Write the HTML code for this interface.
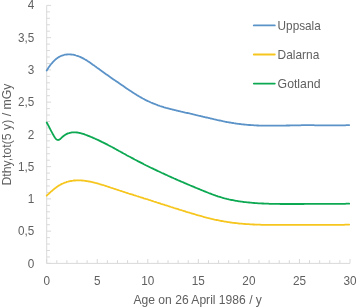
<!DOCTYPE html>
<html><head><meta charset="utf-8"><title>Chart</title>
<style>
html,body{margin:0;padding:0;background:#fff;}
body{width:357px;height:307px;overflow:hidden;}
svg{display:block;font-family:"Liberation Sans",sans-serif;}
.t{font-size:12.05px;fill:#606060;}
.l{font-size:12.4px;fill:#606060;}
</style></head><body>
<svg width="357" height="307" viewBox="0 0 357 307">
<rect width="357" height="307" fill="#fff"/>
<path d="M46.7,5.4V263.4H350.0" stroke="#D9D9D9" stroke-width="1" fill="none"/>
<path d="M46.7,263.40h4.4M46.7,256.95h3.2M46.7,250.50h3.2M46.7,244.05h3.2M46.7,237.60h3.2M46.7,231.15h4.4M46.7,224.70h3.2M46.7,218.25h3.2M46.7,211.80h3.2M46.7,205.35h3.2M46.7,198.90h4.4M46.7,192.45h3.2M46.7,186.00h3.2M46.7,179.55h3.2M46.7,173.10h3.2M46.7,166.65h4.4M46.7,160.20h3.2M46.7,153.75h3.2M46.7,147.30h3.2M46.7,140.85h3.2M46.7,134.40h4.4M46.7,127.95h3.2M46.7,121.50h3.2M46.7,115.05h3.2M46.7,108.60h3.2M46.7,102.15h4.4M46.7,95.70h3.2M46.7,89.25h3.2M46.7,82.80h3.2M46.7,76.35h3.2M46.7,69.90h4.4M46.7,63.45h3.2M46.7,57.00h3.2M46.7,50.55h3.2M46.7,44.10h3.2M46.7,37.65h4.4M46.7,31.20h3.2M46.7,24.75h3.2M46.7,18.30h3.2M46.7,11.85h3.2M46.7,5.40h4.4M46.70,263.4v-4.4M56.81,263.4v-3.2M66.92,263.4v-3.2M77.03,263.4v-3.2M87.14,263.4v-3.2M97.25,263.4v-4.4M107.36,263.4v-3.2M117.47,263.4v-3.2M127.58,263.4v-3.2M137.69,263.4v-3.2M147.80,263.4v-4.4M157.91,263.4v-3.2M168.02,263.4v-3.2M178.13,263.4v-3.2M188.24,263.4v-3.2M198.35,263.4v-4.4M208.46,263.4v-3.2M218.57,263.4v-3.2M228.68,263.4v-3.2M238.79,263.4v-3.2M248.90,263.4v-4.4M259.01,263.4v-3.2M269.12,263.4v-3.2M279.23,263.4v-3.2M289.34,263.4v-3.2M299.45,263.4v-4.4M309.56,263.4v-3.2M319.67,263.4v-3.2M329.78,263.4v-3.2M339.89,263.4v-3.2M350.00,263.4v-4.4" stroke="#D9D9D9" stroke-width="1" fill="none"/>
<path d="M46.7,70.5 L47.7,68.9 L48.7,67.3 L49.7,65.9 L50.7,64.5 L51.8,63.3 L52.8,62.1 L53.8,61.1 L54.8,60.1 L55.8,59.2 L56.8,58.4 L57.8,57.7 L58.8,57.1 L59.9,56.5 L60.9,56.0 L61.9,55.6 L62.9,55.3 L63.9,55.0 L64.9,54.7 L65.9,54.6 L66.9,54.5 L67.9,54.4 L69.0,54.4 L70.0,54.4 L71.0,54.5 L72.0,54.6 L73.0,54.7 L74.0,54.9 L75.0,55.2 L76.0,55.5 L77.1,55.8 L78.1,56.1 L79.1,56.5 L80.1,56.9 L81.1,57.4 L82.1,57.9 L83.1,58.4 L84.1,58.9 L85.1,59.5 L86.2,60.1 L87.2,60.8 L88.2,61.4 L89.2,62.1 L90.2,62.8 L91.2,63.5 L92.2,64.2 L93.2,64.9 L94.3,65.6 L95.3,66.4 L96.3,67.1 L97.3,67.9 L98.3,68.6 L99.3,69.3 L100.3,70.1 L101.3,70.8 L102.3,71.5 L103.4,72.3 L104.4,73.0 L105.4,73.7 L106.4,74.4 L107.4,75.1 L108.4,75.8 L109.4,76.5 L110.4,77.2 L111.4,77.9 L112.5,78.7 L113.5,79.4 L114.5,80.1 L115.5,80.7 L116.5,81.4 L117.5,82.1 L118.5,82.8 L119.5,83.5 L120.6,84.2 L121.6,84.9 L122.6,85.6 L123.6,86.3 L124.6,87.0 L125.6,87.7 L126.6,88.4 L127.6,89.1 L128.6,89.7 L129.7,90.4 L130.7,91.1 L131.7,91.7 L132.7,92.4 L133.7,93.1 L134.7,93.7 L135.7,94.3 L136.7,95.0 L137.8,95.6 L138.8,96.2 L139.8,96.8 L140.8,97.4 L141.8,97.9 L142.8,98.5 L143.8,99.0 L144.8,99.6 L145.8,100.1 L146.9,100.6 L147.9,101.1 L148.9,101.5 L149.9,102.0 L150.9,102.5 L151.9,102.9 L152.9,103.3 L153.9,103.7 L155.0,104.1 L156.0,104.5 L157.0,104.9 L158.0,105.3 L159.0,105.6 L160.0,106.0 L161.0,106.3 L162.0,106.6 L163.0,106.9 L164.1,107.3 L165.1,107.6 L166.1,107.9 L167.1,108.1 L168.1,108.4 L169.1,108.7 L170.1,109.0 L171.1,109.2 L172.2,109.5 L173.2,109.7 L174.2,110.0 L175.2,110.2 L176.2,110.5 L177.2,110.7 L178.2,111.0 L179.2,111.2 L180.2,111.4 L181.3,111.7 L182.3,111.9 L183.3,112.1 L184.3,112.3 L185.3,112.6 L186.3,112.8 L187.3,113.0 L188.3,113.2 L189.4,113.4 L190.4,113.7 L191.4,113.9 L192.4,114.1 L193.4,114.4 L194.4,114.6 L195.4,114.8 L196.4,115.1 L197.4,115.3 L198.5,115.6 L199.5,115.8 L200.5,116.0 L201.5,116.3 L202.5,116.5 L203.5,116.8 L204.5,117.0 L205.5,117.3 L206.5,117.5 L207.6,117.7 L208.6,118.0 L209.6,118.2 L210.6,118.5 L211.6,118.7 L212.6,118.9 L213.6,119.2 L214.6,119.4 L215.7,119.6 L216.7,119.9 L217.7,120.1 L218.7,120.3 L219.7,120.5 L220.7,120.7 L221.7,120.9 L222.7,121.2 L223.7,121.4 L224.8,121.6 L225.8,121.8 L226.8,122.0 L227.8,122.1 L228.8,122.3 L229.8,122.5 L230.8,122.7 L231.8,122.9 L232.9,123.0 L233.9,123.2 L234.9,123.3 L235.9,123.5 L236.9,123.6 L237.9,123.8 L238.9,123.9 L239.9,124.0 L240.9,124.1 L242.0,124.3 L243.0,124.4 L244.0,124.5 L245.0,124.6 L246.0,124.7 L247.0,124.8 L248.0,124.9 L249.0,125.0 L250.1,125.0 L251.1,125.1 L252.1,125.2 L253.1,125.2 L254.1,125.3 L255.1,125.4 L256.1,125.4 L257.1,125.5 L258.1,125.5 L259.2,125.6 L260.2,125.6 L261.2,125.6 L262.2,125.6 L263.2,125.7 L264.2,125.7 L265.2,125.7 L266.2,125.7 L267.3,125.7 L268.3,125.7 L269.3,125.7 L270.3,125.7 L271.3,125.7 L272.3,125.7 L273.3,125.7 L274.3,125.7 L275.3,125.7 L276.4,125.7 L277.4,125.7 L278.4,125.7 L279.4,125.7 L280.4,125.7 L281.4,125.6 L282.4,125.6 L283.4,125.6 L284.5,125.6 L285.5,125.6 L286.5,125.5 L287.5,125.5 L288.5,125.5 L289.5,125.5 L290.5,125.4 L291.5,125.4 L292.5,125.4 L293.6,125.4 L294.6,125.4 L295.6,125.3 L296.6,125.3 L297.6,125.3 L298.6,125.3 L299.6,125.3 L300.6,125.3 L301.6,125.2 L302.7,125.2 L303.7,125.2 L304.7,125.2 L305.7,125.2 L306.7,125.2 L307.7,125.2 L308.7,125.2 L309.7,125.2 L310.8,125.2 L311.8,125.2 L312.8,125.2 L313.8,125.2 L314.8,125.3 L315.8,125.3 L316.8,125.3 L317.8,125.3 L318.8,125.3 L319.9,125.3 L320.9,125.3 L321.9,125.3 L322.9,125.3 L323.9,125.4 L324.9,125.4 L325.9,125.4 L326.9,125.4 L328.0,125.4 L329.0,125.4 L330.0,125.4 L331.0,125.4 L332.0,125.4 L333.0,125.4 L334.0,125.4 L335.0,125.4 L336.0,125.4 L337.1,125.4 L338.1,125.4 L339.1,125.4 L340.1,125.4 L341.1,125.4 L342.1,125.3 L343.1,125.3 L344.1,125.3 L345.2,125.3 L346.2,125.2 L347.2,125.2 L348.2,125.2 L349.2,125.1" stroke="#5B93C8" stroke-width="1.8" fill="none" stroke-linecap="round" stroke-linejoin="round"/>
<path d="M46.7,195.7 L47.7,194.7 L48.7,193.8 L49.7,192.8 L50.7,191.9 L51.8,191.0 L52.8,190.1 L53.8,189.3 L54.8,188.4 L55.8,187.7 L56.8,186.9 L57.8,186.2 L58.8,185.6 L59.9,185.0 L60.9,184.4 L61.9,183.9 L62.9,183.5 L63.9,183.0 L64.9,182.6 L65.9,182.3 L66.9,181.9 L67.9,181.7 L69.0,181.4 L70.0,181.2 L71.0,181.0 L72.0,180.8 L73.0,180.7 L74.0,180.5 L75.0,180.5 L76.0,180.4 L77.1,180.4 L78.1,180.3 L79.1,180.3 L80.1,180.4 L81.1,180.4 L82.1,180.5 L83.1,180.6 L84.1,180.7 L85.1,180.8 L86.2,181.0 L87.2,181.1 L88.2,181.3 L89.2,181.5 L90.2,181.7 L91.2,181.9 L92.2,182.1 L93.2,182.3 L94.3,182.6 L95.3,182.9 L96.3,183.1 L97.3,183.4 L98.3,183.7 L99.3,184.0 L100.3,184.3 L101.3,184.6 L102.3,184.9 L103.4,185.2 L104.4,185.5 L105.4,185.8 L106.4,186.2 L107.4,186.5 L108.4,186.8 L109.4,187.1 L110.4,187.5 L111.4,187.8 L112.5,188.1 L113.5,188.5 L114.5,188.8 L115.5,189.2 L116.5,189.5 L117.5,189.8 L118.5,190.2 L119.5,190.5 L120.6,190.8 L121.6,191.2 L122.6,191.5 L123.6,191.8 L124.6,192.2 L125.6,192.5 L126.6,192.8 L127.6,193.1 L128.6,193.5 L129.7,193.8 L130.7,194.1 L131.7,194.4 L132.7,194.7 L133.7,195.1 L134.7,195.4 L135.7,195.7 L136.7,196.0 L137.8,196.3 L138.8,196.7 L139.8,197.0 L140.8,197.3 L141.8,197.6 L142.8,197.9 L143.8,198.3 L144.8,198.6 L145.8,198.9 L146.9,199.2 L147.9,199.5 L148.9,199.9 L149.9,200.2 L150.9,200.5 L151.9,200.8 L152.9,201.2 L153.9,201.5 L155.0,201.8 L156.0,202.1 L157.0,202.5 L158.0,202.8 L159.0,203.1 L160.0,203.4 L161.0,203.8 L162.0,204.1 L163.0,204.4 L164.1,204.7 L165.1,205.1 L166.1,205.4 L167.1,205.7 L168.1,206.0 L169.1,206.3 L170.1,206.7 L171.1,207.0 L172.2,207.3 L173.2,207.6 L174.2,208.0 L175.2,208.3 L176.2,208.6 L177.2,208.9 L178.2,209.2 L179.2,209.6 L180.2,209.9 L181.3,210.2 L182.3,210.5 L183.3,210.8 L184.3,211.1 L185.3,211.4 L186.3,211.8 L187.3,212.1 L188.3,212.4 L189.4,212.7 L190.4,213.0 L191.4,213.3 L192.4,213.6 L193.4,213.9 L194.4,214.2 L195.4,214.5 L196.4,214.8 L197.4,215.1 L198.5,215.4 L199.5,215.7 L200.5,215.9 L201.5,216.2 L202.5,216.5 L203.5,216.8 L204.5,217.1 L205.5,217.3 L206.5,217.6 L207.6,217.9 L208.6,218.1 L209.6,218.4 L210.6,218.6 L211.6,218.9 L212.6,219.1 L213.6,219.3 L214.6,219.6 L215.7,219.8 L216.7,220.0 L217.7,220.2 L218.7,220.4 L219.7,220.6 L220.7,220.8 L221.7,221.0 L222.7,221.2 L223.7,221.4 L224.8,221.6 L225.8,221.7 L226.8,221.9 L227.8,222.1 L228.8,222.2 L229.8,222.4 L230.8,222.5 L231.8,222.6 L232.9,222.8 L233.9,222.9 L234.9,223.0 L235.9,223.1 L236.9,223.2 L237.9,223.4 L238.9,223.5 L239.9,223.6 L240.9,223.6 L242.0,223.7 L243.0,223.8 L244.0,223.9 L245.0,224.0 L246.0,224.1 L247.0,224.1 L248.0,224.2 L249.0,224.2 L250.1,224.3 L251.1,224.4 L252.1,224.4 L253.1,224.5 L254.1,224.5 L255.1,224.6 L256.1,224.6 L257.1,224.6 L258.1,224.7 L259.2,224.7 L260.2,224.7 L261.2,224.8 L262.2,224.8 L263.2,224.8 L264.2,224.8 L265.2,224.8 L266.2,224.9 L267.3,224.9 L268.3,224.9 L269.3,224.9 L270.3,224.9 L271.3,224.9 L272.3,224.9 L273.3,224.9 L274.3,224.9 L275.3,224.9 L276.4,224.9 L277.4,224.9 L278.4,224.9 L279.4,224.9 L280.4,224.9 L281.4,224.9 L282.4,224.9 L283.4,224.9 L284.5,224.9 L285.5,224.9 L286.5,224.9 L287.5,224.9 L288.5,224.9 L289.5,224.9 L290.5,224.8 L291.5,224.8 L292.5,224.8 L293.6,224.8 L294.6,224.8 L295.6,224.8 L296.6,224.8 L297.6,224.8 L298.6,224.8 L299.6,224.8 L300.6,224.8 L301.6,224.8 L302.7,224.8 L303.7,224.8 L304.7,224.8 L305.7,224.8 L306.7,224.8 L307.7,224.8 L308.7,224.8 L309.7,224.8 L310.8,224.8 L311.8,224.8 L312.8,224.8 L313.8,224.8 L314.8,224.8 L315.8,224.8 L316.8,224.8 L317.8,224.8 L318.8,224.8 L319.9,224.8 L320.9,224.8 L321.9,224.9 L322.9,224.9 L323.9,224.9 L324.9,224.9 L325.9,224.9 L326.9,224.9 L328.0,224.9 L329.0,224.9 L330.0,224.9 L331.0,224.9 L332.0,224.9 L333.0,224.9 L334.0,224.9 L335.0,224.9 L336.0,224.9 L337.1,224.9 L338.1,224.9 L339.1,224.8 L340.1,224.8 L341.1,224.8 L342.1,224.8 L343.1,224.8 L344.1,224.8 L345.2,224.7 L346.2,224.7 L347.2,224.7 L348.2,224.7 L349.2,224.6" stroke="#F6C61E" stroke-width="1.8" fill="none" stroke-linecap="round" stroke-linejoin="round"/>
<path d="M46.7,122.5 L47.7,124.3 L48.7,126.2 L49.7,128.2 L50.7,130.1 L51.8,132.1 L52.8,134.0 L53.8,135.8 L54.8,137.4 L55.8,138.8 L56.8,139.7 L57.8,140.0 L58.8,139.9 L59.9,139.3 L60.9,138.4 L61.9,137.4 L62.9,136.5 L63.9,135.7 L64.9,135.0 L65.9,134.4 L66.9,133.9 L67.9,133.4 L69.0,133.1 L70.0,132.8 L71.0,132.6 L72.0,132.4 L73.0,132.3 L74.0,132.3 L75.0,132.3 L76.0,132.4 L77.1,132.5 L78.1,132.6 L79.1,132.8 L80.1,133.0 L81.1,133.3 L82.1,133.6 L83.1,133.9 L84.1,134.2 L85.1,134.6 L86.2,135.0 L87.2,135.4 L88.2,135.8 L89.2,136.2 L90.2,136.6 L91.2,137.0 L92.2,137.4 L93.2,137.9 L94.3,138.3 L95.3,138.8 L96.3,139.2 L97.3,139.7 L98.3,140.1 L99.3,140.6 L100.3,141.1 L101.3,141.6 L102.3,142.1 L103.4,142.6 L104.4,143.1 L105.4,143.6 L106.4,144.1 L107.4,144.6 L108.4,145.2 L109.4,145.7 L110.4,146.2 L111.4,146.8 L112.5,147.3 L113.5,147.9 L114.5,148.4 L115.5,149.0 L116.5,149.6 L117.5,150.1 L118.5,150.7 L119.5,151.2 L120.6,151.8 L121.6,152.4 L122.6,152.9 L123.6,153.5 L124.6,154.0 L125.6,154.6 L126.6,155.2 L127.6,155.7 L128.6,156.3 L129.7,156.8 L130.7,157.3 L131.7,157.9 L132.7,158.4 L133.7,158.9 L134.7,159.5 L135.7,160.0 L136.7,160.5 L137.8,161.1 L138.8,161.6 L139.8,162.1 L140.8,162.6 L141.8,163.1 L142.8,163.6 L143.8,164.2 L144.8,164.7 L145.8,165.2 L146.9,165.7 L147.9,166.2 L148.9,166.7 L149.9,167.2 L150.9,167.7 L151.9,168.2 L152.9,168.6 L153.9,169.1 L155.0,169.6 L156.0,170.1 L157.0,170.6 L158.0,171.1 L159.0,171.5 L160.0,172.0 L161.0,172.5 L162.0,173.0 L163.0,173.4 L164.1,173.9 L165.1,174.4 L166.1,174.8 L167.1,175.3 L168.1,175.8 L169.1,176.2 L170.1,176.7 L171.1,177.1 L172.2,177.6 L173.2,178.0 L174.2,178.5 L175.2,178.9 L176.2,179.4 L177.2,179.8 L178.2,180.3 L179.2,180.7 L180.2,181.1 L181.3,181.6 L182.3,182.0 L183.3,182.4 L184.3,182.9 L185.3,183.3 L186.3,183.7 L187.3,184.2 L188.3,184.6 L189.4,185.0 L190.4,185.5 L191.4,185.9 L192.4,186.3 L193.4,186.7 L194.4,187.1 L195.4,187.6 L196.4,188.0 L197.4,188.4 L198.5,188.8 L199.5,189.2 L200.5,189.7 L201.5,190.1 L202.5,190.5 L203.5,190.9 L204.5,191.3 L205.5,191.7 L206.5,192.1 L207.6,192.5 L208.6,193.0 L209.6,193.3 L210.6,193.7 L211.6,194.1 L212.6,194.5 L213.6,194.9 L214.6,195.2 L215.7,195.6 L216.7,195.9 L217.7,196.3 L218.7,196.6 L219.7,196.9 L220.7,197.2 L221.7,197.5 L222.7,197.8 L223.7,198.1 L224.8,198.4 L225.8,198.6 L226.8,198.9 L227.8,199.1 L228.8,199.4 L229.8,199.6 L230.8,199.8 L231.8,200.0 L232.9,200.2 L233.9,200.4 L234.9,200.6 L235.9,200.8 L236.9,200.9 L237.9,201.1 L238.9,201.3 L239.9,201.4 L240.9,201.6 L242.0,201.7 L243.0,201.8 L244.0,202.0 L245.0,202.1 L246.0,202.2 L247.0,202.3 L248.0,202.4 L249.0,202.5 L250.1,202.6 L251.1,202.7 L252.1,202.8 L253.1,202.9 L254.1,203.0 L255.1,203.1 L256.1,203.1 L257.1,203.2 L258.1,203.3 L259.2,203.3 L260.2,203.4 L261.2,203.4 L262.2,203.5 L263.2,203.5 L264.2,203.6 L265.2,203.6 L266.2,203.7 L267.3,203.7 L268.3,203.7 L269.3,203.8 L270.3,203.8 L271.3,203.8 L272.3,203.8 L273.3,203.9 L274.3,203.9 L275.3,203.9 L276.4,203.9 L277.4,203.9 L278.4,203.9 L279.4,203.9 L280.4,204.0 L281.4,204.0 L282.4,204.0 L283.4,204.0 L284.5,204.0 L285.5,204.0 L286.5,204.0 L287.5,204.0 L288.5,204.0 L289.5,204.0 L290.5,204.0 L291.5,204.0 L292.5,204.0 L293.6,204.0 L294.6,204.0 L295.6,204.0 L296.6,204.0 L297.6,204.0 L298.6,204.0 L299.6,204.0 L300.6,204.0 L301.6,204.0 L302.7,204.0 L303.7,204.0 L304.7,203.9 L305.7,203.9 L306.7,203.9 L307.7,203.9 L308.7,203.9 L309.7,203.9 L310.8,203.9 L311.8,203.9 L312.8,203.9 L313.8,203.9 L314.8,203.9 L315.8,203.9 L316.8,203.9 L317.8,203.9 L318.8,203.9 L319.9,203.9 L320.9,203.9 L321.9,203.9 L322.9,203.9 L323.9,203.9 L324.9,203.9 L325.9,203.9 L326.9,203.9 L328.0,203.9 L329.0,203.9 L330.0,203.9 L331.0,203.9 L332.0,203.9 L333.0,203.9 L334.0,203.9 L335.0,203.9 L336.0,203.8 L337.1,203.8 L338.1,203.8 L339.1,203.8 L340.1,203.8 L341.1,203.8 L342.1,203.8 L343.1,203.8 L344.1,203.8 L345.2,203.8 L346.2,203.7 L347.2,203.7 L348.2,203.7 L349.2,203.7" stroke="#0CA852" stroke-width="1.8" fill="none" stroke-linecap="round" stroke-linejoin="round"/>
<g class="t">
<text x="27.87" y="267.80" textLength="6.53" lengthAdjust="spacingAndGlyphs">0</text>
<text x="18.12" y="235.49" textLength="16.28" lengthAdjust="spacingAndGlyphs">0,5</text>
<text x="27.87" y="203.17" textLength="6.53" lengthAdjust="spacingAndGlyphs">1</text>
<text x="18.12" y="170.86" textLength="16.28" lengthAdjust="spacingAndGlyphs">1,5</text>
<text x="27.87" y="138.55" textLength="6.53" lengthAdjust="spacingAndGlyphs">2</text>
<text x="18.12" y="106.24" textLength="16.28" lengthAdjust="spacingAndGlyphs">2,5</text>
<text x="27.87" y="73.92" textLength="6.53" lengthAdjust="spacingAndGlyphs">3</text>
<text x="18.12" y="41.61" textLength="16.28" lengthAdjust="spacingAndGlyphs">3,5</text>
<text x="27.87" y="9.30" textLength="6.53" lengthAdjust="spacingAndGlyphs">4</text>
<text x="43.43" y="284.6" textLength="6.53" lengthAdjust="spacingAndGlyphs">0</text>
<text x="93.98" y="284.6" textLength="6.53" lengthAdjust="spacingAndGlyphs">5</text>
<text x="141.27" y="284.6" textLength="13.06" lengthAdjust="spacingAndGlyphs">10</text>
<text x="191.82" y="284.6" textLength="13.06" lengthAdjust="spacingAndGlyphs">15</text>
<text x="242.37" y="284.6" textLength="13.06" lengthAdjust="spacingAndGlyphs">20</text>
<text x="292.92" y="284.6" textLength="13.06" lengthAdjust="spacingAndGlyphs">25</text>
<text x="343.47" y="284.6" textLength="13.06" lengthAdjust="spacingAndGlyphs">30</text>
</g>
<g class="l">
<path d="M253.8,25.4H274.8" stroke="#5B93C8" stroke-width="1.8" stroke-linecap="round" fill="none"/>
<text x="277.6" y="29.8" textLength="43.15" lengthAdjust="spacingAndGlyphs">Uppsala</text>
<path d="M253.8,54.5H274.8" stroke="#F6C61E" stroke-width="1.8" stroke-linecap="round" fill="none"/>
<text x="277.6" y="58.9" textLength="41.68" lengthAdjust="spacingAndGlyphs">Dalarna</text>
<path d="M253.8,83.6H274.8" stroke="#0CA852" stroke-width="1.8" stroke-linecap="round" fill="none"/>
<text x="277.6" y="88.0" textLength="42.96" lengthAdjust="spacingAndGlyphs">Gotland</text>
<text x="133.5" y="304.0" textLength="128.40" lengthAdjust="spacingAndGlyphs">Age on 26 April 1986 / y</text>
<text transform="translate(11.4,185.6) rotate(-90)" textLength="101.94" lengthAdjust="spacingAndGlyphs">Dthy,tot(5 y) / mGy</text>
</g>
</svg>
</body></html>
